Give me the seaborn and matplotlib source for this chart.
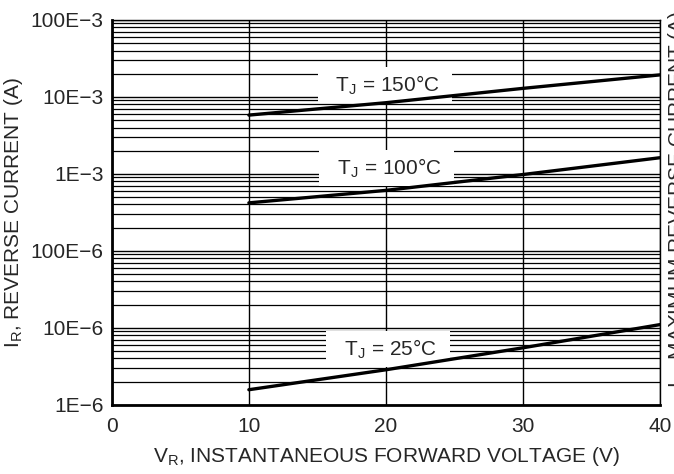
import matplotlib
matplotlib.use("Agg")
import matplotlib.pyplot as plt
import matplotlib.ticker as mticker
import seaborn as sns
import pandas as pd

### curves
v_r = [10, 20, 30, 40]
i_150 = [5.8e-3, 8.4e-3, 12.9e-3, 19.3e-3]
i_100 = [4.2e-4, 6.1e-4, 9.8e-4, 16.2e-4]
i_25 = [1.57e-6, 2.85e-6, 5.5e-6, 11.0e-6]
curve_labels = ["  T$_\\mathregular{J}$ = 150°C  ", "  T$_\\mathregular{J}$ = 100°C  ", "  T$_\\mathregular{J}$ = 25°C  "]

x_ticks = [0, 10, 20, 30, 40]
y_ticks = [1e-6, 1e-5, 1e-4, 1e-3, 1e-2, 1e-1]
y_ticklabels = ["1E\u22126", "10E\u22126", "100E\u22126", "1E\u22123", "10E\u22123", "100E\u22123"]

df = pd.DataFrame({
    "v": v_r * 3,
    "i": i_150 + i_100 + i_25,
    "curve": ["150"] * 4 + ["100"] * 4 + ["25"] * 4,
})

sns.set_style("white")
plt.rcParams["font.family"] = ["Liberation Sans", "DejaVu Sans"]
plt.rcParams["mathtext.fontset"] = "custom"
plt.rcParams["mathtext.rm"] = "Liberation Sans"

fs = 15
fig = plt.figure(figsize=(6.74, 4.74), dpi=100)
ax = fig.add_axes([0.166, 0.146, 0.813, 0.812])

sns.lineplot(data=df, x="v", y="i", units="curve", estimator=None,
             color="black", linewidth=2.4, ax=ax, zorder=5)

ax.set_yscale("log")
ax.set_ylim(1e-6, 1e-1)
ax.set_xlim(0, 40)
ax.set_xticks(x_ticks)
ax.set_yticks(y_ticks)
ax.set_yticklabels(y_ticklabels)
ax.yaxis.set_minor_locator(mticker.LogLocator(base=10, subs=range(2, 10)))
ax.yaxis.set_minor_formatter(mticker.NullFormatter())
ax.tick_params(axis="both", which="both", length=0, labelsize=fs)
ax.tick_params(axis="x", pad=9)
ax.tick_params(axis="y", pad=6)

ax.grid(True, which="major", axis="both", color="black", linewidth=1.0)
ax.grid(True, which="minor", axis="y", color="black", linewidth=0.9)

for s in ["top", "right"]:
    ax.spines[s].set_color("black")
    ax.spines[s].set_linewidth(1.0)
for s in ["left", "bottom"]:
    ax.spines[s].set_color("black")
    ax.spines[s].set_linewidth(2.0)

box = dict(facecolor="white", edgecolor="none", boxstyle="square,pad=0.3")
ax.text(19.93, 1.43e-2, curve_labels[0], fontsize=fs, ha="center", va="center", bbox=box, zorder=4)
ax.text(20.07, 1.20e-3, curve_labels[1], fontsize=fs, ha="center", va="center", bbox=box, zorder=4)
ax.text(20.15, 5.33e-6, curve_labels[2], fontsize=fs, ha="center", va="center", bbox=box, zorder=4)

ax.set_xlabel("V$_\\mathregular{R}$, INSTANTANEOUS FORWARD VOLTAGE (V)", fontsize=fs, labelpad=6)
ax.set_ylabel("I$_\\mathregular{R}$, REVERSE CURRENT (A)", fontsize=fs, labelpad=4)

# right-hand axis title, cut off by the page edge as in the original
fig.text(0.988, 0.181, "I$_\\mathregular{R}$, MAXIMUM REVERSE CURRENT (A)", rotation=90,
         fontsize=fs, ha="left", va="bottom")

fig.savefig("out.png", dpi=100)
